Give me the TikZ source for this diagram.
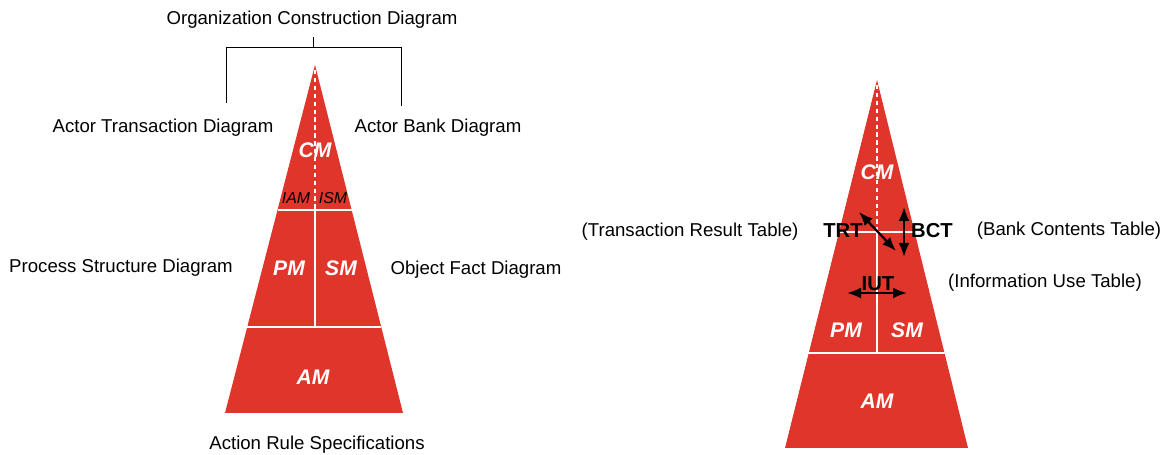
\documentclass[tikz,border=0pt]{standalone}
\usepackage{fontspec}
\setmainfont{Liberation Sans}
\definecolor{demored}{HTML}{E0352A}
\usetikzlibrary{arrows.meta}

\begin{document}
\begin{tikzpicture}[x=0.02cm,y=-0.02cm,
  lbl/.style={font=\fontsize{10.6}{12}\selectfont,inner sep=0pt},
  aspect/.style={text=white,font=\fontsize{12}{14}\selectfont\bfseries\itshape,inner sep=0pt},
  sub/.style={font=\fontsize{9}{10}\selectfont\itshape,inner sep=0pt},
  tbl/.style={font=\fontsize{11.5}{13}\selectfont\bfseries,inner sep=0pt},
  sep/.style={white,line width=1.2pt},
  axis/.style={white,line width=1.2pt,dash pattern=on 2.5pt off 2pt},
  brk/.style={black,line width=0.5pt},
  dbl/.style={{Latex[length=2.8mm,width=2.2mm]}-{Latex[length=2.8mm,width=2.2mm]},line width=1.3pt}]
  \useasboundingbox (0,0) rectangle (1173,455);
  % left pyramid
  \fill[demored] (315,65) -- (403,413) -- (225,413) -- cycle;
  \draw[axis] (315,70) -- (315,210);
  \draw[sep] (315,210) -- (315,327);
  \draw[sep] (278,210) -- (352,210);
  \draw[sep] (247,327) -- (381,327);
  \node[aspect] (cmL) at (315,150) {CM};
  \node[sub] (iam) at (296,198) {IAM};
  \node[sub] (ism) at (333,198) {ISM};
  \node[aspect] (pmL) at (289,268) {PM};
  \node[aspect] (smL) at (341,268) {SM};
  \node[aspect] (amL) at (313,377) {AM};
  % diagram names
  \node[lbl] (ocd) at (312,20) {Organization Construction Diagram};
  \node[lbl] (atd) at (163,128) {Actor Transaction Diagram};
  \node[lbl] (abd) at (438,128) {Actor Bank Diagram};
  \node[lbl] (psd) at (121,268) {Process Structure Diagram};
  \node[lbl] (ofd) at (476,270) {Object Fact Diagram};
  \node[lbl] (ars) at (317,445) {Action Rule Specifications};
  \coordinate (stem) at (313,37);
  \coordinate (brkM) at (313,47);
  \coordinate (brkL) at (226,103);
  \coordinate (brkR) at (401,106);
  \draw[brk] (stem) -- (brkM);
  \draw[brk] (brkM) -| (brkL);
  \draw[brk] (brkM) -| (brkR);
  % right pyramid
  \fill[demored] (877,80) -- (968,448) -- (785,448) -- cycle;
  \draw[axis] (877,85) -- (877,232);
  \draw[sep] (877,232) -- (877,353);
  \draw[sep] (840,232) -- (914,232);
  \draw[sep] (808,353) -- (946,353);
  \node[aspect] (cmR) at (877,172) {CM};
  \node[aspect] (pmR) at (846,330) {PM};
  \node[aspect] (smR) at (907,330) {SM};
  \node[aspect] (amR) at (877,401) {AM};
  \node[tbl] (trt) at (843,231) {TRT};
  \node[tbl] (bct) at (932,231) {BCT};
  \node[tbl] (iut) at (878,284) {IUT};
  \node[lbl] (trtx) at (690,232) {(Transaction Result Table)};
  \node[lbl] (bctx) at (1069,231) {(Bank Contents Table)};
  \node[lbl] (iutx) at (1045,283) {(Information Use Table)};
  \coordinate (trtA) at (859,212);
  \coordinate (trtB) at (896,251);
  \coordinate (bctA) at (904,207);
  \coordinate (bctB) at (904,257);
  \coordinate (iutA) at (847,293);
  \coordinate (iutB) at (907,293);
  \draw[dbl] (trtA) -- (trtB);
  \draw[dbl] (bctA) -- (bctB);
  \draw[dbl] (iutA) -- (iutB);
\end{tikzpicture}
\end{document}
